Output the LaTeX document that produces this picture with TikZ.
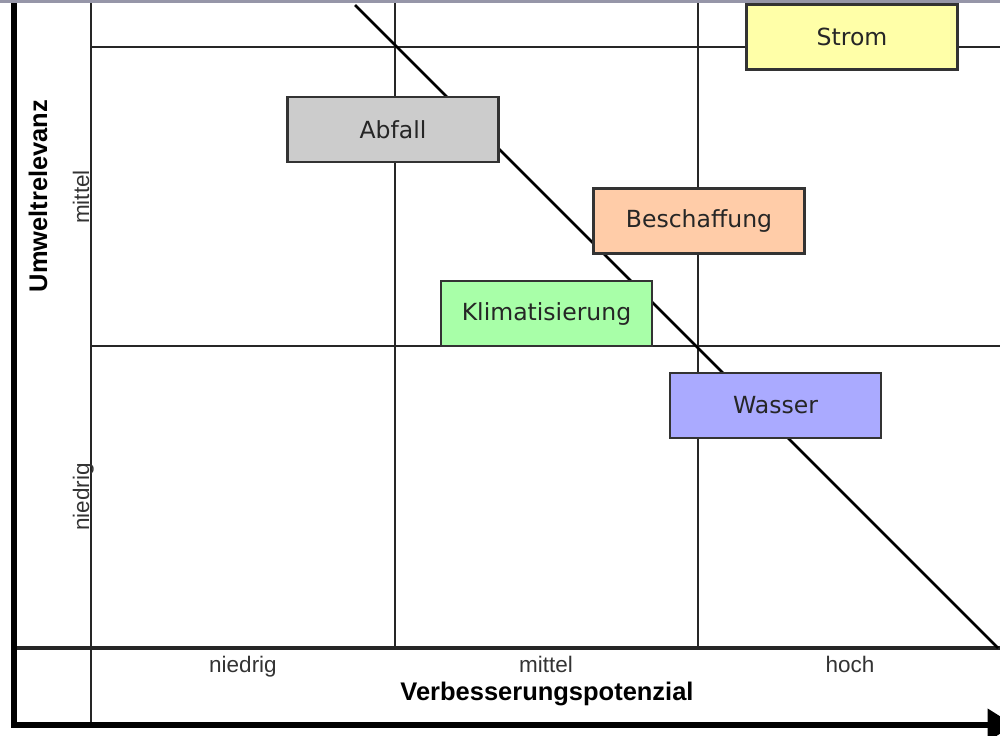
\documentclass[tikz,border=0pt]{standalone}
\usepackage{fontspec}
\setmainfont{Liberation Sans}
\newfontfamily\feldfont{DejaVu Sans}
\usetikzlibrary{arrows.meta}

\definecolor{stromgelb}{RGB}{255,255,168}
\definecolor{abfallgrau}{RGB}{204,204,204}
\definecolor{beschpfirsich}{RGB}{255,204,168}
\definecolor{klimagruen}{RGB}{168,255,168}
\definecolor{wasserblau}{RGB}{170,170,255}
\definecolor{randgrau}{RGB}{150,150,168}

\tikzset{
  feld/.style={draw=black!80, line width=1.3pt, minimum width=42.2mm, minimum height=13mm,
    inner sep=0pt, font=\feldfont\fontsize{13.4}{15}\selectfont, text=black!85},
  gitter/.style={line width=1.4pt, black!85},
  achse/.style={font=\bfseries\fontsize{14.5}{17}\selectfont},
  stufe/.style={font=\fontsize{12.8}{15}\selectfont, text=black!80},
}

\begin{document}
\begin{tikzpicture}[x=0.2mm,y=-0.2mm]
  \useasboundingbox (0,0) rectangle (1000,735);
  \draw[gitter] (91,0) -- (91,725);
  \foreach \x in {395,698}
    \draw[gitter] (\x,0) -- (\x,648);
  \foreach \y in {47,346}
    \draw[gitter] (91,\y) -- (1000,\y);
  \draw[black!85, line width=2pt] (14,648) -- (1000,648);
  \draw[line width=1.5pt] (355,5) -- (998,648);

  \draw[line width=3pt] (14,0) -- (14,728);
  \draw[line width=3pt, -{Triangle[length=15pt,width=18pt]}] (12.5,725) -- (1014,725);

  \node[feld, fill=stromgelb] (strom) at (852,37) {Strom};
  \node[feld, fill=abfallgrau] (abfall) at (393,129.5) {Abfall};
  \node[feld, fill=beschpfirsich] (beschaffung) at (699,221) {Beschaffung};
  \node[feld, fill=klimagruen] (klima) at (546.5,313.5) {Klimatisierung};
  \node[feld, fill=wasserblau] (wasser) at (775.5,405.5) {Wasser};

  \foreach \x/\xtext in {243/niedrig, 546/mittel, 850/hoch}
    \node[stufe, anchor=base] (x-\xtext) at (\x,672) {\xtext};
  \node[achse, anchor=base] (xachse) at (547,700) {Verbesserungspotenzial};

  \foreach \y/\ytext in {197/mittel, 497/niedrig}
    \node[stufe, rotate=90, anchor=base] (y-\ytext) at (89,\y) {\ytext};
  \node[achse, rotate=90, anchor=base] (yachse) at (47,196) {Umweltrelevanz};

  %\draw (0,0) rectangle (1000,735);
  \draw[randgrau, line width=1.8pt] (0,1.5) -- (1000,1.5);
\end{tikzpicture}
\end{document}
